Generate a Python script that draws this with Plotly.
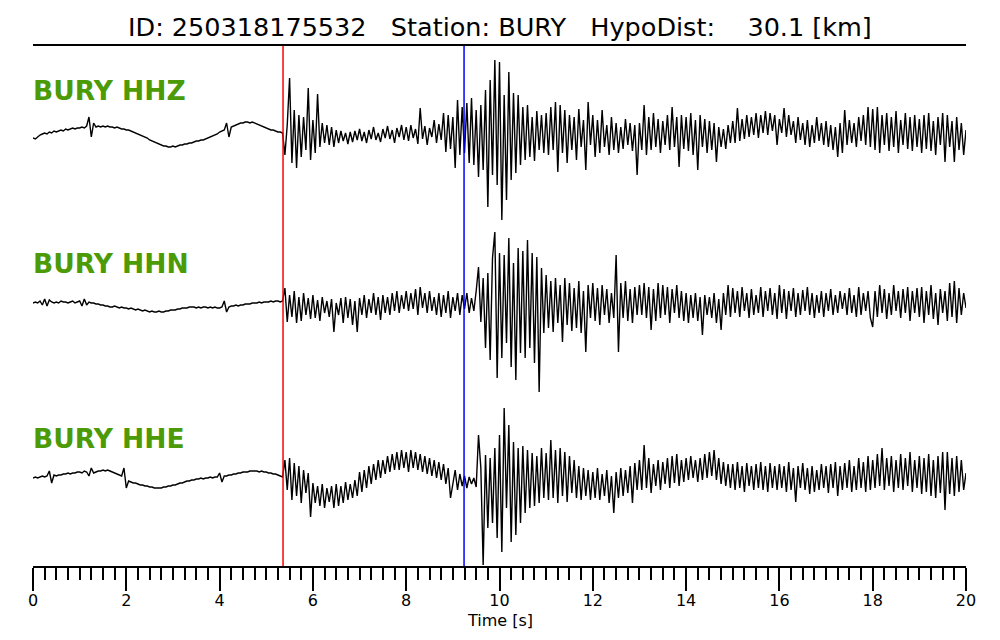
import numpy as np
import plotly.graph_objects as go

# ---------------- data (amplitudes, relative units) ----------------
DT = 0.05
STATIONS = ["BURY HHZ", "BURY HHN", "BURY HHE"]
P_PICK = 5.36
S_PICK = 9.24
X_TICKS = [0, 2, 4, 6, 8, 10, 12, 14, 16, 18, 20]
TITLE = "ID: 250318175532\u00a0\u00a0\u00a0Station: BURY\u00a0\u00a0\u00a0HypoDist:\u00a0\u00a0\u00a0\u00a030.1 [km]"
X_LABEL = "Time [s]"

hhz = [
    -3,-4,-2,0,1,2,1,3,2,4,3,4,5,4,6,5,6,7,6,7,
    7,8,7,9,18,-2,12,8,9,8,9,8,9,8,8,7,8,7,6,6,
    5,5,4,3,2,1,0,-1,-2,-3,-5,-6,-7,-8,-9,-10,-11,-11,-12,-12,
    -11,-12,-11,-10,-10,-9,-9,-8,-8,-7,-6,-6,-5,-5,-4,-3,-2,-1,0,1,
    3,4,5,12,-2,8,9,10,11,12,12,13,13,12,13,12,11,10,9,8,
    7,6,5,5,4,3,3,2,
    -20,10,57,-28,25,-33,20,-22,18,-15,47,-25,15,-18,41,-12,12,-8,10,-10,
    8,-12,5,-8,4,-6,2,-9,3,-7,4,-5,
    6,-6,3,-8,5,-4,8,-5,2,-7,6,-3,9,-4,5,-8,7,-2,10,-5,
    8,-6,10,-3,6,-9,27,-4,9,-10,7,-2,15,-8,11,-5,22,-17,20,-14,
    18,-33,35,-20,28,-18,32,-28,37,-30,25,-42,30,-35,45,-72,55,-40,75,-50,
    73,-85,40,-65,63,-45,42,-38,40,-30,28,-25,30,-22,18,-26,24,-15,20,-18,
    22,-20,28,-15,33,-37,30,-18,25,-28,20,-15,18,-25,26,-12,15,-35,33,-10,
    20,-22,15,-18,25,-12,10,-20,18,-15,12,-18,8,-14,16,-10,12,-16,10,-40,
    12,-15,30,-20,18,-15,22,-12,16,-18,14,-10,20,-15,28,-12,18,-32,20,-14,
    18,-16,22,-20,15,-35,20,-12,16,-18,14,-15,12,-27,8,-12,6,-14,10,-8,
    14,-8,27,-6,16,-4,20,-2,18,0,22,-3,20,2,24,0,22,4,20,-10,
    16,2,27,-2,20,0,14,-8,18,-5,12,-10,15,-12,10,-8,18,-6,12,-10,
    14,-12,10,-15,8,-22,12,-18,25,-10,15,-8,12,-12,18,-6,20,-10,28,-12,
    26,-15,28,-18,20,-10,22,-16,18,-12,24,-18,15,-10,22,-14,18,-16,20,-12,
    16,-18,20,-14,22,-16,14,-20,18,-10,22,-27,20,-12,14,-27,18,-15,12,-20,
    5,
]

hhn = [
    0,1,0,2,-2,4,-3,3,1,0,1,0,2,1,1,0,1,2,0,1,
    2,-3,4,-2,1,0,0,-1,-1,-2,-2,-3,-3,-4,-4,-3,-4,-5,-4,-5,
    -5,-6,-5,-6,-7,-6,-7,-8,-7,-8,-9,-8,-9,-9,-8,-9,-9,-8,-8,-7,
    -7,-7,-6,-6,-5,-5,-5,-4,-4,-4,-5,-4,-5,-4,-4,-5,-4,-5,-4,-5,
    -5,-4,2,-9,-4,-3,-3,-2,-3,-2,-2,-1,-1,-1,0,0,0,1,0,1,
    1,1,2,1,2,2,1,2,
    15,-19,8,-14,12,-20,6,-18,10,-12,5,-16,
    8,-15,3,-18,6,-10,2,-14,4,-29,0,-12,5,-20,6,-15,4,-22,2,-29,
    5,-12,8,-15,4,-10,10,-12,6,-17,8,-10,6,-12,10,-8,12,-10,8,-6,
    12,-8,10,-6,14,-12,16,-5,10,-10,12,-8,6,-12,10,-14,8,-10,12,-15,
    6,-8,10,-12,8,-6,10,-10,5,-8,12,36,-19,25,-45,30,-57,45,71,-75,
    50,-55,48,-40,65,-64,40,-77,55,-50,52,-55,63,-45,50,-60,46,-89,35,-30,
    28,-25,22,-29,25,-20,18,-39,25,-22,20,-28,15,-25,22,-30,12,-49,18,-15,
    20,-18,15,-22,18,-12,14,-20,10,-15,48,-49,20,-15,22,-18,14,-20,16,-12,
    18,-12,20,-15,16,-27,14,-18,20,-15,18,-12,16,-20,14,-10,18,-15,12,-18,
    10,-20,8,-15,10,-18,6,-32,8,-12,6,-15,10,-20,4,-27,10,-12,18,-14,
    15,-10,12,-14,16,-8,10,-15,14,-12,8,-10,16,-14,12,-8,15,-12,10,-16,
    18,-10,14,-16,12,-8,15,-14,10,-12,13,-8,16,-12,10,-15,8,-10,12,-14,
    10,-8,14,-12,8,-10,12,-6,10,-12,15,-10,8,-14,16,-12,10,-8,12,-15,
    -24,12,-14,18,-10,14,-16,10,-12,18,-8,12,-15,14,-10,16,-18,12,-10,15,
    -14,16,-20,12,-12,18,-16,10,-22,14,-10,12,-18,20,-14,22,-20,15,-12,10,
    -5,
]

hhe = [
    0,1,0,1,2,1,2,7,-5,3,2,3,3,4,4,5,4,5,5,6,
    6,5,7,6,2,10,5,6,7,7,8,7,8,7,6,5,4,3,2,10,
    -10,-3,-4,-5,-5,-6,-7,-7,-8,-8,-9,-9,-10,-10,-10,-10,-9,-9,-8,-8,
    -7,-7,-6,-5,-5,-4,-3,-3,-2,-2,-1,-1,0,-1,0,0,1,0,1,1,
    5,-4,2,2,3,3,4,4,5,5,6,6,6,7,7,7,7,6,7,6,
    6,5,5,4,4,3,2,1,
    18,-12,20,-22,15,-18,12,-25,8,-15,5,-39,
    -5,-25,-8,-28,-6,-30,-10,-24,-8,-30,
    -6,-28,-8,-25,-4,-22,-6,-20,-2,-18,
    6,-14,8,-10,12,-6,14,-2,18,0,
    18,4,22,6,24,8,26,8,28,10,
    26,6,28,10,26,8,24,6,22,4,20,2,18,0,16,-2,14,-6,10,-20,
    -6,8,-12,4,-8,2,-10,1,-6,0,-9,43,10,-87,23,-50,20,-45,30,-60,
    43,-74,70,-30,53,-64,36,-57,30,-45,32,-35,28,-30,25,-28,22,-25,30,-20,
    25,-22,38,-20,28,-25,30,-18,26,-24,22,-15,18,-20,12,-22,10,-18,8,-22,
    6,-20,10,-22,4,-18,8,-25,2,-35,6,-20,10,-18,8,-15,12,-25,15,-12,
    18,-12,33,-10,20,-15,14,-8,18,-12,16,-6,20,-10,22,-5,24,-8,18,-4,
    20,-2,22,0,18,-4,20,-2,24,0,26,2,28,-2,20,-6,16,-8,14,-10,
    14,-12,16,-10,12,-14,15,-8,12,-12,14,-10,16,-12,12,-14,15,-10,12,-12,
    14,-10,12,-14,16,-12,10,-24,12,-10,15,-12,10,-16,12,-14,8,-12,14,-10,
    12,-15,14,-10,16,-18,12,-12,15,-10,18,-14,12,-12,20,-10,16,-14,22,-12,
    18,-10,24,-8,30,-12,20,-8,22,-14,18,-10,24,-12,20,-8,26,-14,18,-10,
    22,-16,20,-14,24,-18,18,-20,22,-15,26,-32,26,-16,20,-18,22,-14,18,-12,
    5,
]

# ---------------- layout constants ----------------
# page has an 8px body margin, so the figure is 992x632 and sits at (8, 8)
W, H = 992, 632
ML, MR, MT, MB = 25, 34, 38, 74
PLOT_H = H - MT - MB            # 520
OFFSETS = [431, 263, 88]         # trace baselines in axis units
LABEL_Y = [476, 303, 128]
GREEN = "#4c9a06"
FONT = "DejaVu Sans"

fig = go.Figure()
for vals, off in zip([hhz, hhn, hhe], OFFSETS):
    v = np.asarray(vals, dtype=float)
    t = np.arange(len(v)) * DT
    fig.add_trace(go.Scatter(x=t, y=off + v, mode="lines",
                             line=dict(color="black", width=1.4),
                             hoverinfo="skip", showlegend=False))

for name, ly in zip(STATIONS, LABEL_Y):
    fig.add_annotation(text=name, xref="paper", yref="y", x=0, y=ly, xshift=-2,
                       xanchor="left", yanchor="middle", showarrow=False,
                       font=dict(family=FONT, size=26.5, color=GREEN, weight="bold"))

fig.add_annotation(text=TITLE, xref="paper", yref="paper", x=0.5,
                   y=1 + (46 - 27) / PLOT_H, xanchor="center", yanchor="middle",
                   showarrow=False, font=dict(family=FONT, size=25.5, color="black"))

fig.add_annotation(text=X_LABEL, xref="paper", yref="paper", x=0.5,
                   y=(566 - 620) / PLOT_H, xanchor="center", yanchor="middle",
                   showarrow=False, font=dict(family=FONT, size=16, color="black"))

for xp, col in [(P_PICK, "#ff0000"), (S_PICK, "#0000ff")]:
    fig.add_shape(type="line", xref="x", yref="paper", x0=xp, x1=xp, y0=0, y1=1,
                  line=dict(color=col, width=1.5), layer="above")

fig.update_layout(
    width=W, height=H,
    margin=dict(l=ML, r=MR, t=MT, b=MB, pad=0),
    paper_bgcolor="white", plot_bgcolor="white",
    font=dict(family=FONT, color="black"),
    showlegend=False,
    xaxis=dict(range=[0, 20], tickvals=X_TICKS, ticks="outside", ticklen=23,
               tickwidth=2, tickcolor="black", showline=True, linecolor="black",
               linewidth=2, mirror=True, showgrid=False, zeroline=False,
               ticklabelstandoff=-4,
               tickfont=dict(family=FONT, size=16, color="black"),
               minor=dict(dtick=0.25, ticks="outside", ticklen=12, tickwidth=2,
                          tickcolor="black", showgrid=False)),
    yaxis=dict(range=[0, PLOT_H], visible=False, fixedrange=True),
)

fig.write_html("out.html")
